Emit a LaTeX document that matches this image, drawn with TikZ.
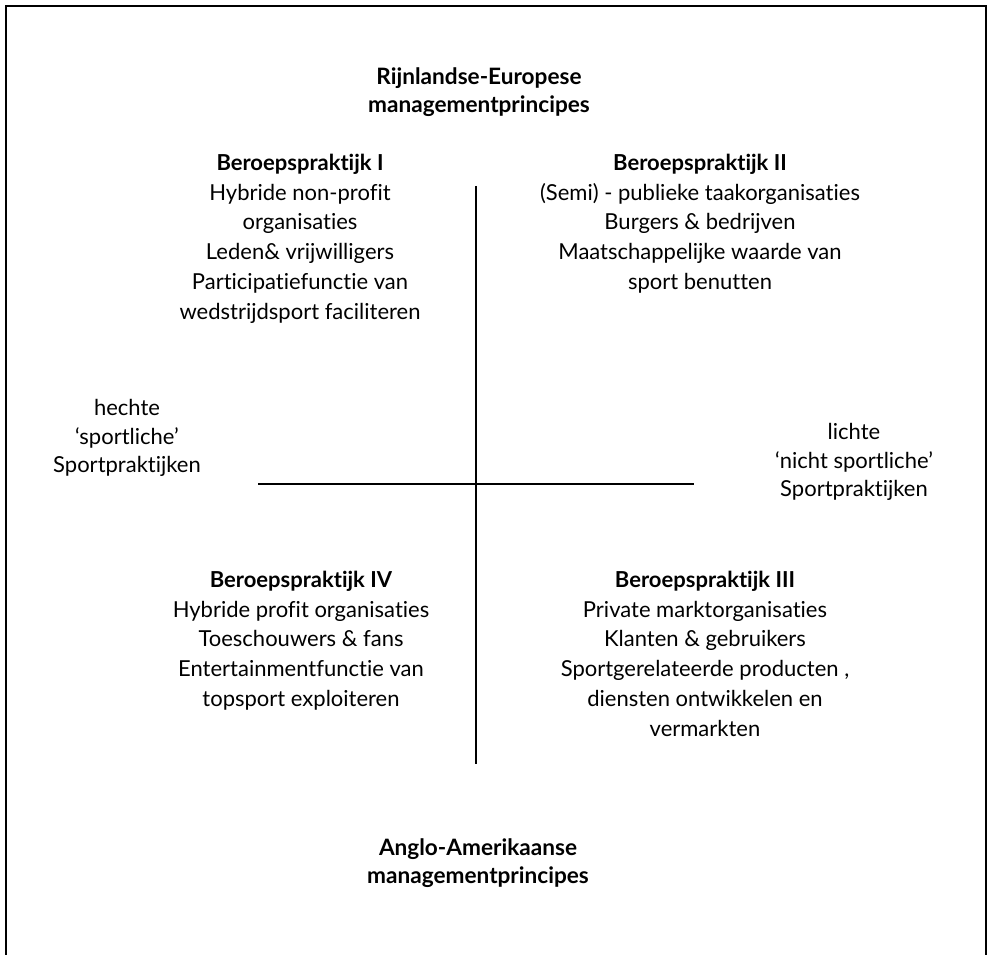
\documentclass[tikz,border=0pt]{standalone}
\usepackage{fontspec}
\setmainfont{Lato}[Ligatures={NoCommon}]
\tikzset{
  blk/.style={align=center, inner sep=0pt, anchor=north, font=\fontsize{22}{29.7}\selectfont},
  ttl/.style={blk, font=\fontsize{22.6}{28}\selectfont\bfseries},
  side/.style={blk, font=\fontsize{22}{28.7}\selectfont},
  axis/.style={line width=1.5pt},
}
\begin{document}
\begin{tikzpicture}[x=1pt,y=-1pt]
\useasboundingbox (0,0) rectangle (989,955);
\begin{scope}
\clip (0,0) rectangle (989,955);
\draw[line width=2pt] (5.5,970) -- (5.5,6) -- (985.5,6) -- (985.5,970);
\end{scope}
% titles
\node[ttl] (top) at (479,68) {Rijnlandse-Europese\\managementprincipes};
\node[ttl] (bot) at (478,839) {Anglo-Amerikaanse\\managementprincipes};
% axes
\coordinate (vt) at (476,186);
\coordinate (vb) at (476,764);
\coordinate (hl) at (258,484);
\coordinate (hr) at (694,484);
\draw[axis] (vt) -- (vb);
\draw[axis] (hl) -- (hr);
% quadrants
\node[blk] (q1) at (300,154) {\textbf{Beroepspraktijk I}\\Hybride non-profit\\organisaties\\Leden\& vrijwilligers\\Participatiefunctie van\\wedstrijdsport faciliteren};
\node[blk] (q2) at (700,154) {\textbf{Beroepspraktijk II}\\(Semi) - publieke taakorganisaties\\Burgers \& bedrijven\\Maatschappelijke waarde van\\sport benutten};
\node[blk] (q4) at (301,571) {\textbf{Beroepspraktijk IV}\\Hybride profit organisaties\\Toeschouwers \& fans\\Entertainmentfunctie van\\topsport exploiteren};
\node[blk] (q3) at (705,571) {\textbf{Beroepspraktijk III}\\Private marktorganisaties\\Klanten \& gebruikers\\Sportgerelateerde producten ,\\diensten ontwikkelen en\\vermarkten};
% sides
\node[side] (left) at (127,399) {hechte\\‘sportliche’\\Sportpraktijken};
\node[side] (right) at (854,423) {lichte\\‘nicht sportliche’\\Sportpraktijken};
\end{tikzpicture}
\end{document}
